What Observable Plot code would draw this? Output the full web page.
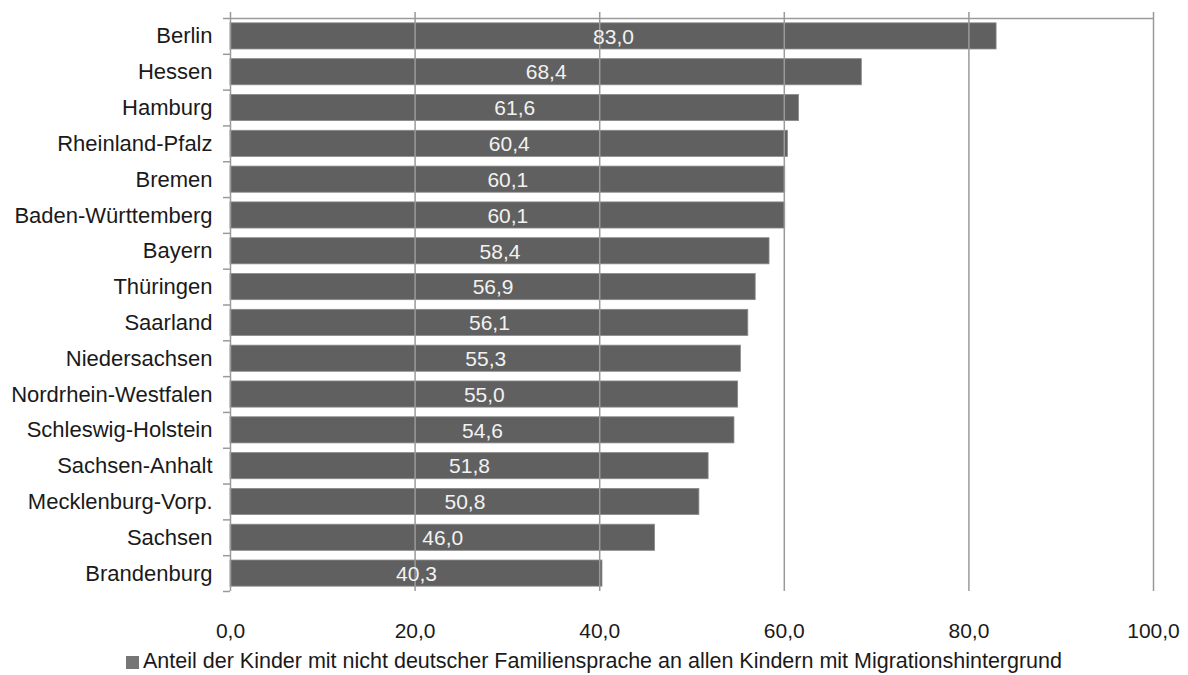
<!DOCTYPE html>
<html>
<head>
<meta charset="utf-8">
<script src="https://cdn.jsdelivr.net/npm/d3@7"></script>
<script src="https://cdn.jsdelivr.net/npm/@observablehq/plot@0.6"></script>
<style>
  html, body { margin: 0; padding: 0; background: #fff; }
  body { width: 1188px; height: 675px; overflow: hidden; font-family: "Liberation Sans", Arial, sans-serif; }
  #legend { height: 34px; line-height: 34px; text-align: center; font-size: 21.5px; color: #1a1a1a; white-space: nowrap; margin-top: -1px; }
  #legend .sw { display: inline-block; width: 13px; height: 13px; background: #767676; margin-right: 4px; vertical-align: -1px; }
</style>
</head>
<body>
<div id="chart"></div>
<div id="legend"><span class="sw"></span>Anteil der Kinder mit nicht deutscher Familiensprache an allen Kindern mit Migrationshintergrund</div>
<script>
const states = ["Berlin","Hessen","Hamburg","Rheinland-Pfalz","Bremen","Baden-Württemberg","Bayern","Thüringen","Saarland","Niedersachsen","Nordrhein-Westfalen","Schleswig-Holstein","Sachsen-Anhalt","Mecklenburg-Vorp.","Sachsen","Brandenburg"];
const values = [83.0,68.4,61.6,60.4,60.1,60.1,58.4,56.9,56.1,55.3,55.0,54.6,51.8,50.8,46.0,40.3];
const xTicks = [0,20,40,60,80,100];
const seriesName = "Anteil der Kinder mit nicht deutscher Familiensprache an allen Kindern mit Migrationshintergrund";

const data = states.map((s, i) => ({state: s, value: values[i]}));
const fmt = d => d.toFixed(1).replace(".", ",");

const W = 1188, H = 645, mT = 12, mB = 54, insTop = 6;
const pInner = 0.27, pOuter = 0.135;
const step = (H - mT - mB - insTop) / (states.length - pInner + 2 * pOuter);

const chart = Plot.plot({
  width: W,
  height: H,
  marginLeft: 230,
  marginRight: 35,
  marginTop: mT,
  marginBottom: mB,
  style: {fontFamily: "Liberation Sans, Arial, sans-serif", background: "#fff", color: "#1a1a1a"},
  x: {domain: [0, 100], ticks: xTicks, label: null},
  y: {domain: states, paddingInner: pInner, paddingOuter: pOuter, insetTop: insTop, align: 0.5, round: false, label: null},
  marks: [
    Plot.barX(data, {x: "value", y: "state", fill: "#606060", stroke: "#8a8a8a", strokeWidth: 0.8}),
    Plot.ruleX(xTicks, {stroke: "#9a9a9a", strokeWidth: 1.5}),
    // top border line
    Plot.ruleY([states[0]], {y: d => d, x1: 0, x2: 100, dy: -step / 2, stroke: "#9a9a9a", strokeWidth: 1.5}),
    // category boundary ticks
    Plot.ruleY(states, {y: d => d, x1: 0, x2: 0, insetLeft: -7, dy: -step / 2, stroke: "#9a9a9a", strokeWidth: 1.5}),
    Plot.ruleY([states[states.length - 1]], {y: d => d, x1: 0, x2: 0, insetLeft: -7, dy: step / 2, stroke: "#9a9a9a", strokeWidth: 1.5}),
    Plot.text(data, {x: d => d.value / 2, y: "state", text: d => fmt(d.value), fill: "#f2f2f2", fontSize: 21, dy: 0.5}),
    Plot.axisX({ticks: xTicks, tickFormat: fmt, tickSize: 0, tickPadding: 32, fontSize: 21, stroke: "none", label: null}),
    Plot.axisY({tickSize: 0, tickPadding: 18, fontSize: 22, label: null})
  ]
});
document.getElementById("chart").appendChild(chart);
</script>
</body>
</html>
